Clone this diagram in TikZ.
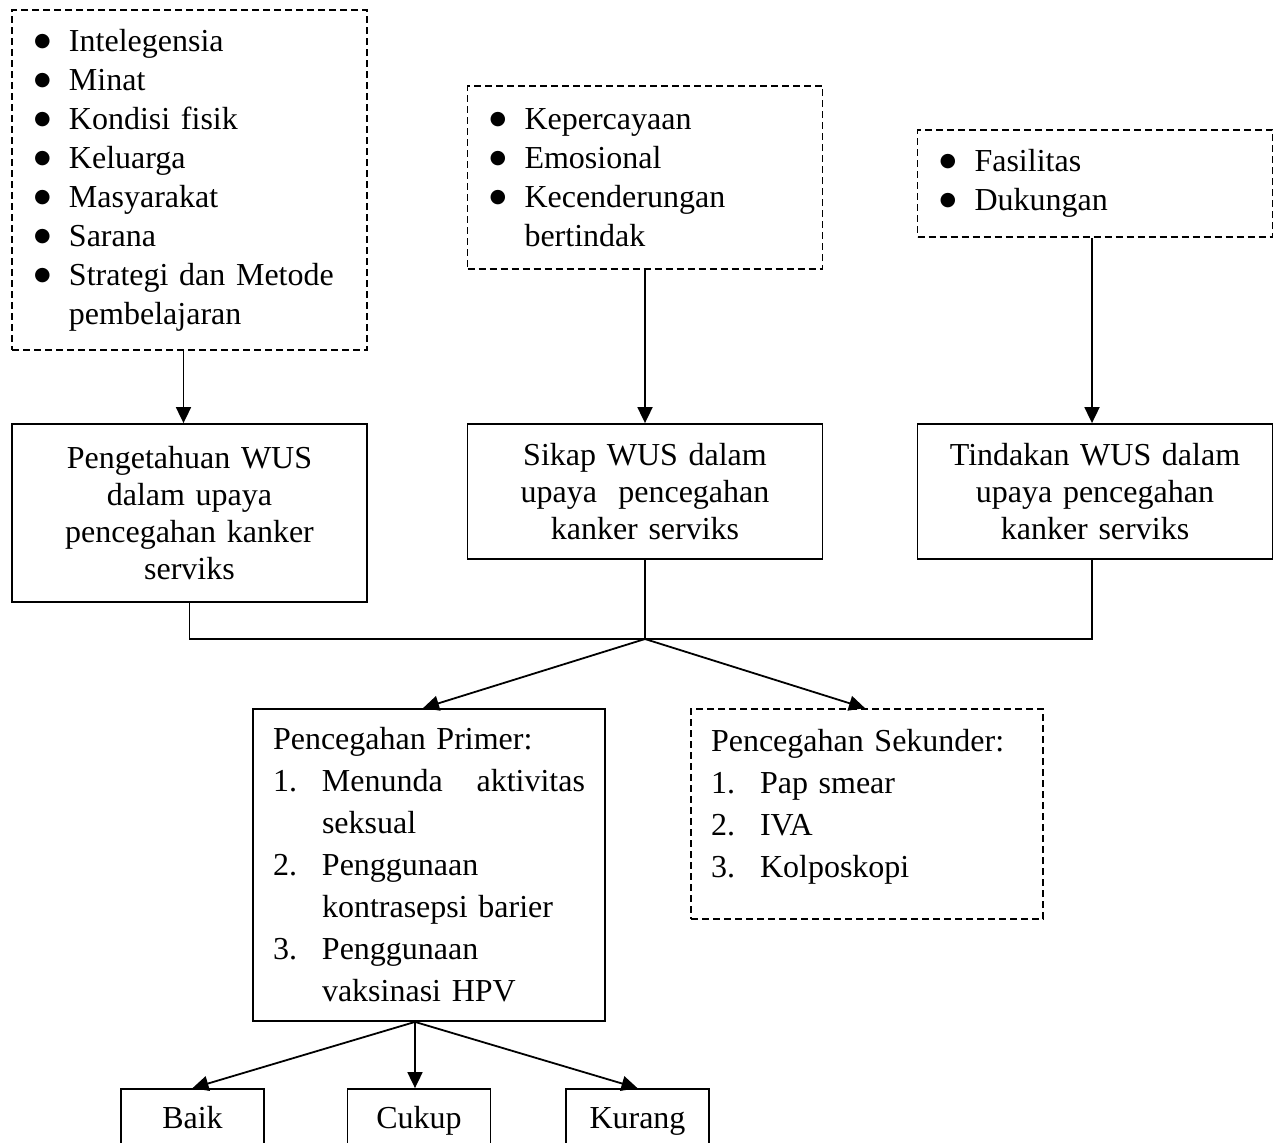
\documentclass[tikz,border=0pt]{standalone}
\usepackage{fontspec}
\setmainfont{Liberation Serif}
\newfontfamily\dotfont{DejaVu Sans}
\usetikzlibrary{arrows.meta}

\newcommand{\bitem}{\makebox[17pt][l]{\hspace{-0.5pt}\raisebox{2.4pt}{\dotfont\fontsize{9.5pt}{0pt}\selectfont ●}}}
\newcommand{\nitem}[1]{\makebox[24.5pt][l]{#1}}
\newcommand{\indentline}[1]{\hspace*{#1}}

\begin{document}
\begin{tikzpicture}[x=0.5pt,y=-0.5pt,>={Triangle[length=8pt,width=7.5pt]},line width=0.9pt,
  every node/.style={font=\fontsize{16pt}{19.5pt}\selectfont},
  dashbox/.style={draw,dash pattern=on 3.5pt off 2pt,align=left,inner xsep=11.5pt,inner ysep=0pt,text width=154.5pt},
  solidbox/.style={draw,align=center,inner xsep=0pt,inner ysep=0pt,text width=177.5pt,font=\fontsize{16pt}{18.5pt}\selectfont},
  listbox/.style={draw,align=left,inner xsep=10pt,inner ysep=0pt,text width=156pt,font=\fontsize{16pt}{21pt}\selectfont},
  ratebox/.style={draw,minimum width=71.5pt,minimum height=31.5pt,inner sep=0pt,text height=11pt,text depth=3.5pt}]

\useasboundingbox (0,0) rectangle (1274,1142);
\clip (0,0) rectangle (1274,1142);

% faktor-faktor
\node[dashbox,minimum height=170pt] (fak1) at (189.5,180) {\bitem Intelegensia\\ \bitem Minat\\ \bitem Kondisi fisik\\ \bitem Keluarga\\ \bitem Masyarakat\\ \bitem Sarana\\ \bitem Strategi dan Metode\\ \indentline{17pt}pembelajaran};
\node[dashbox,minimum height=91.5pt] (fak2) at (645,177.5) {\bitem Kepercayaan\\ \bitem Emosional\\ \bitem Kecenderungan\\ \indentline{17pt}bertindak};
\node[dashbox,minimum height=53.5pt] (fak3) at (1095,183.5) {\bitem Fasilitas\\ \bitem Dukungan};

% domain perilaku
\node[solidbox,minimum height=89pt] (peng) at (189.5,513) {Pengetahuan WUS\\ dalam upaya\\ pencegahan kanker\\ serviks};
\node[solidbox,minimum height=67.5pt] (sikap) at (645,491.5) {Sikap WUS dalam\\ upaya\ \ pencegahan\\ kanker serviks};
\node[solidbox,minimum height=67.5pt] (tind) at (1095,491.5) {Tindakan WUS dalam\\ upaya pencegahan\\ kanker serviks};

% pencegahan
\node[listbox,minimum height=156pt] (prim) at (429,865) {Pencegahan Primer:\\ \nitem{1.}Menunda\hfill aktivitas\\ \indentline{24.5pt}seksual\\ \nitem{2.}Penggunaan\\ \indentline{24.5pt}kontrasepsi barier\\ \nitem{3.}Penggunaan\\ \indentline{24.5pt}vaksinasi HPV};
\node[listbox,dash pattern=on 3.5pt off 2pt,minimum height=105pt] (seku) at (867,814) {Pencegahan Sekunder:\\ \nitem{1.}Pap smear\\ \nitem{2.}IVA\\ \nitem{3.}Kolposkopi\\[-10pt]\mbox{}};

% kategori
\node[ratebox] (baik) at (192.5,1120.5) {Baik};
\node[ratebox] (cukup) at (419,1120.5) {Cukup};
\node[ratebox] (kurang) at (637.5,1120.5) {Kurang};

\draw[->] ([xshift=-3pt]fak1.south) -- ([xshift=-3pt]peng.north);
\draw[->] (fak2.south) -- (sikap.north);
\draw[->] ([xshift=-1.5pt]fak3.south) -- ([xshift=-1.5pt]tind.north);

\coordinate (jct) at (645,639);
\draw (peng.south) |- (jct) -| ([xshift=-1.5pt]tind.south);
\draw (sikap.south) -- (jct);
\draw[->] (jct) -- ([xshift=-3pt]prim.north);
\draw[->] (jct) -- ([xshift=-1pt]seku.north);

\coordinate (split) at ([xshift=-7pt]prim.south);
\draw[->] (split) -- (baik.north);
\draw[->] (split) -- (split |- cukup.north);
\draw[->] (split) -- (kurang.north);

\end{tikzpicture}
\end{document}
